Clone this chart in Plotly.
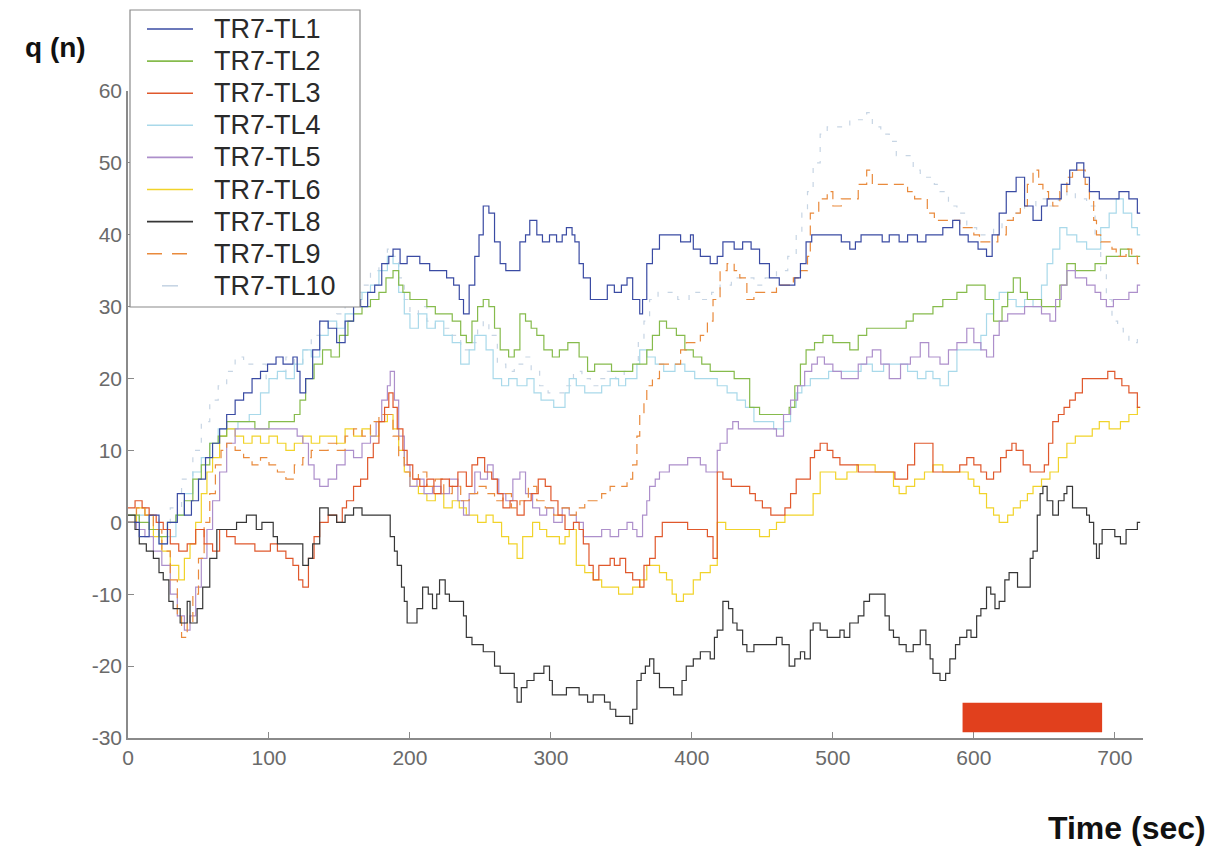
import plotly.graph_objects as go

# ---- series: (time in s, q(n)) breakpoints, drawn as step lines ----
SERIES_NAMES = ["TR7-TL1", "TR7-TL2", "TR7-TL3", "TR7-TL4", "TR7-TL5",
                "TR7-TL6", "TR7-TL8", "TR7-TL9", "TR7-TL10"]

TL1 = [(0,0),(8,-2),(15,1),(22,-3),(28,0),(35,4),(40,1),(45,3),(50,6),(55,9),(60,11),(65,13),(70,15),
       (76,17),(82,18),(88,20),(94,21),(99,22),(105,23),(110,22),(117,23),(120,21),(122,18),(126,20),
       (131,24),(136,28),(142,27),(148,25),(154,28),(160,31),(165,30),(170,32),(175,33),(180,36),
       (185,37),(188,38),(193,36),(198,37),(207,36),(214,35),(220,35),(226,34),(231,33),(235,31),
       (238,29),(242,33),(246,37),(249,40),(252,44),(256,43),(260,39),(264,36),(268,35),(273,35),
       (278,39),(282,40),(285,42),(290,40),(294,39),(299,40),(304,39),(308,40),(311,41),(315,40),
       (317,39),(320,36),(323,34),(328,31),(334,31),(340,33),(345,32),(350,33),(354,34),(358,31),
       (363,29),(365,31),(368,36),(372,38),(377,40),(385,40),(392,39),(399,40),(401,38),(406,37),
       (413,36),(418,37),(422,39),(430,38),(436,39),(442,38),(448,36),(455,34),(462,33),(469,33),
       (473,34),(477,36),(481,39),(485,40),(500,40),(506,39),(512,38),(516,39),(520,40),(528,40),
       (535,39),(540,40),(547,39),(553,40),(560,39),(566,40),(571,40),(578,41),(585,42),(590,40),
       (596,39),(603,38),(609,37),(613,40),(618,43),(623,46),(630,48),(636,44),(642,42),(648,44),
       (652,45),(656,45),(662,47),(668,49),(673,50),(678,48),(682,46),(689,45),(696,45),(703,46),
       (710,45),(716,43),(718,43)]

TL2 = [(0,1),(8,0),(15,-1),(22,-2),(28,0),(34,1),(40,3),(46,6),(52,8),(58,11),(64,12),(70,14),
       (80,14),(90,13),(100,14),(110,14),(118,15),(122,17),(126,20),(132,22),(138,24),(144,23),
       (150,26),(156,28),(160,29),(166,30),(172,31),(178,32),(183,34),(188,35),(192,33),(195,32),
       (200,31),(206,31),(212,30),(218,29),(224,29),(230,28),(236,26),(240,25),(244,28),(248,30),
       (252,31),(256,30),(260,27),(264,24),(270,23),(274,24),(278,29),(282,28),(286,27),(290,26),
       (295,24),(301,23),(306,24),(312,25),(316,25),(320,23),(326,21),(331,22),(337,22),(343,21),
       (349,21),(354,21),(358,22),(363,22),(368,24),(372,26),(377,28),(382,27),(389,26),(395,24),
       (401,23),(407,22),(413,21),(420,21),(425,21),(430,20),(436,20),(441,16),(448,15),(455,15),
       (462,15),(469,16),(473,19),(477,22),(481,24),(487,25),(493,26),(500,25),(506,25),(512,24),
       (518,26),(524,27),(530,27),(540,27),(547,27),(552,28),(557,29),(565,29),(571,30),(578,31),
       (583,31),(588,32),(595,33),(602,33),(608,31),(614,28),(620,30),(624,32),(628,34),(633,32),
       (638,31),(642,31),(648,30),(656,30),(661,33),(666,36),(672,35),(680,35),(686,36),(694,37),
       (699,37),(704,38),(710,37),(716,37),(718,37)]

TL3 = [(0,2),(5,3),(10,2),(15,1),(20,0),(25,-1),(30,-3),(36,-4),(42,-3),(48,-1),(54,-3),(60,-4),
       (65,-1),(70,-2),(76,-3),(84,-3),(90,-4),(96,-4),(101,-3),(106,-4),(112,-5),(117,-6),(121,-8),
       (124,-9),(128,-5),(132,-2),(136,0),(142,1),(148,0),(152,2),(155,3),(160,5),(165,6),(170,9),
       (174,11),(178,14),(182,16),(185,18),(188,16),(191,13),(195,10),(198,8),(202,6),(207,5),
       (212,6),(217,4),(222,6),(228,5),(234,7),(240,5),(244,8),(248,9),(253,7),(258,6),(262,4),
       (266,2),(271,3),(276,1),(281,3),(286,4),(291,6),(296,5),(300,3),(305,1),(310,-1),(316,0),
       (320,-1),(323,-3),(327,-6),(330,-8),(334,-6),(337,-6),(342,-5),(345,-6),(349,-5),(353,-7),
       (358,-8),(363,-9),(366,-6),(370,-5),(374,-2),(379,0),(385,0),(392,0),(397,-1),(401,-1),
       (406,-1),(411,-2),(415,-5),(418,7),(422,6),(428,5),(436,5),(441,4),(445,3),(450,2),(456,1),
       (462,1),(466,2),(470,4),(474,6),(480,6),(484,9),(487,10),(491,11),(496,10),(500,9),(505,8),
       (512,8),(518,7),(524,7),(530,7),(538,7),(544,6),(549,6),(553,8),(558,11),(562,11),(567,11),
       (571,7),(577,7),(585,7),(590,8),(595,9),(600,8),(605,7),(609,6),(614,7),(619,9),(623,10),
       (627,11),(630,10),(635,8),(640,7),(645,7),(650,8),(653,11),(656,14),(660,15),(664,16),
       (668,17),(672,18),(677,20),(684,20),(690,20),(695,21),(700,20),(705,19),(710,18),(716,16),
       (718,16)]

TL4 = [(0,0),(8,1),(15,-1),(22,-3),(28,-2),(34,1),(40,4),(46,7),(52,9),(58,11),(64,13),(70,13),
       (78,14),(86,15),(94,18),(100,20),(106,21),(112,20),(118,22),(124,24),(130,23),(136,26),
       (142,28),(148,27),(154,29),(160,31),(166,32),(172,33),(178,35),(184,37),(188,36),(192,32),
       (196,29),(200,27),(206,29),(212,27),(218,28),(224,26),(230,25),(236,22),(242,24),(246,26),
       (250,26),(254,24),(259,20),(265,19),(270,20),(276,19),(283,20),(288,18),(293,17),(297,17),
       (302,16),(306,16),(310,18),(313,20),(318,19),(324,18),(330,18),(336,19),(342,20),(348,19),
       (353,20),(358,20),(361,22),(363,24),(368,23),(374,22),(380,21),(388,22),(395,21),(402,20),
       (410,20),(418,19),(425,18),(432,17),(438,16),(444,14),(450,14),(458,13),(465,14),(470,16),
       (474,18),(478,19),(484,20),(490,20),(497,21),(505,21),(512,21),(520,22),(528,21),(536,22),
       (547,22),(553,21),(560,20),(566,21),(571,20),(576,19),(582,21),(588,24),(594,24),(600,24),
       (605,26),(609,29),(614,31),(618,32),(624,31),(630,30),(636,31),(642,30),(648,33),(652,36),
       (656,38),(661,41),(666,40),(673,39),(680,38),(684,38),(690,41),(696,43),(701,45),(706,43),
       (712,41),(716,40),(718,40)]

TL5 = [(0,0),(6,-1),(12,-2),(18,-4),(24,-6),(30,-10),(35,-13),(40,-15),(44,-13),(48,-9),(52,-5),
       (56,-1),(60,3),(65,7),(70,11),(76,13),(84,13),(92,13),(100,13),(108,13),(116,13),(120,12),
       (124,11),(128,8),(132,6),(136,5),(142,6),(148,8),(154,10),(160,9),(166,11),(172,12),(176,14),
       (180,17),(184,19),(186,21),(189,17),(192,12),(196,8),(200,5),(205,6),(210,4),(216,5),(222,4),
       (228,6),(234,3),(238,1),(242,4),(246,7),(250,6),(255,8),(259,6),(263,4),(268,3),(273,6),
       (278,7),(282,4),(287,2),(292,1),(297,2),(302,0),(308,2),(313,1),(318,0),(323,-2),(330,-2),
       (336,-1),(342,-2),(348,-1),(354,0),(358,-1),(361,-2),(365,1),(368,3),(370,5),(374,6),(377,7),
       (384,8),(392,8),(397,9),(401,9),(406,8),(410,7),(415,7),(418,10),(420,11),(425,13),(429,14),
       (433,13),(436,13),(445,13),(452,13),(460,12),(465,15),(470,17),(475,19),(480,21),(485,22),
       (489,23),(494,22),(500,21),(506,20),(512,20),(518,22),(524,23),(528,24),(534,22),(540,20),
       (543,20),(548,22),(555,23),(562,25),(568,23),(576,22),(582,24),(588,25),(595,27),(600,25),
       (605,24),(609,23),(614,26),(618,28),(624,29),(630,29),(636,30),(642,30),(648,29),(654,28),
       (658,31),(662,33),(666,35),(672,34),(680,33),(686,32),(690,31),(694,30),(699,31),(704,31),
       (710,32),(716,33),(718,33)]

TL6 = [(0,0),(6,2),(12,1),(18,-2),(24,-4),(30,-6),(36,-8),(40,-5),(44,-3),(48,0),(52,4),(56,7),
       (60,9),(65,12),(70,13),(76,12),(82,11),(88,12),(94,11),(100,12),(106,11),(112,10),(118,11),
       (124,12),(130,11),(136,12),(142,12),(148,11),(154,13),(160,12),(166,13),(172,12),(178,14),
       (184,15),(188,13),(192,10),(196,7),(200,5),(206,4),(212,3),(218,4),(224,2),(230,3),(235,2),
       (240,1),(248,0),(254,1),(259,0),(265,-2),(270,-3),(276,-5),(280,-2),(287,0),(292,-1),(297,-2),
       (302,-2),(306,-3),(310,-2),(313,-1),(318,-6),(324,-7),(330,-8),(336,-9),(342,-9),(348,-10),
       (354,-10),(358,-9),(363,-8),(368,-6),(372,-6),(377,-7),(382,-8),(386,-10),(389,-11),(394,-10),
       (401,-8),(406,-7),(413,-6),(418,0),(424,-1),(432,-1),(440,-1),(448,-2),(455,-1),(460,0),
       (466,1),(472,1),(478,1),(482,1),(486,4),(491,7),(496,7),(502,6),(510,7),(517,8),(524,8),
       (530,7),(538,7),(543,5),(547,4),(552,5),(558,6),(565,7),(571,8),(578,7),(585,7),(590,7),
       (596,6),(600,5),(604,4),(609,2),(614,1),(618,0),(624,1),(628,2),(633,3),(638,4),(642,5),
       (648,6),(654,7),(660,9),(666,11),(672,12),(677,12),(684,13),(689,14),(696,13),(704,14),
       (710,15),(716,16),(718,16)]

TL8 = [(0,1),(5,-1),(8,-3),(13,-4),(18,-5),(22,-7),(25,-8),(29,-11),(32,-12),(37,-14),(42,-11),
       (44,-14),(49,-12),(53,-9),(58,-5),(63,-1),(68,-1),(72,-1),(77,0),(84,1),(91,-1),(95,0),(99,0),
       (103,-2),(106,-3),(113,-3),(120,-3),(124,-6),(128,-5),(131,-3),(136,2),(142,1),(148,0),
       (154,1),(160,2),(166,1),(172,1),(178,1),(184,1),(186,-2),(189,-4),(191,-6),(194,-9),(196,-11),
       (198,-14),(202,-14),(205,-12),(209,-9),(213,-10),(216,-12),(219,-10),(221,-8),(225,-10),
       (228,-11),(233,-11),(236,-11),(238,-13),(240,-16),(244,-17),(248,-17),(252,-18),(255,-18),
       (260,-20),(264,-21),(268,-21),(271,-21),(274,-23),(276,-25),(279,-23),(283,-22),(288,-21),
       (292,-21),(295,-20),(297,-20),(299,-22),(301,-24),(306,-24),(311,-23),(316,-23),(320,-24),
       (326,-25),(330,-24),(335,-24),(338,-25),(342,-26),(346,-27),(351,-27),(354,-27),(356,-28),
       (358,-26),(361,-22),(364,-21),(367,-20),(370,-19),(373,-21),(377,-23),(382,-23),(387,-24),
       (391,-24),(393,-22),(396,-20),(401,-19),(406,-18),(410,-18),(413,-19),(416,-16),(418,-15),
       (422,-11),(426,-12),(429,-14),(432,-15),(436,-17),(439,-18),(444,-17),(448,-17),(454,-17),
       (460,-16),(464,-17),(469,-20),(473,-19),(477,-18),(480,-19),(484,-15),(486,-14),(491,-15),
       (496,-16),(500,-16),(505,-15),(508,-16),(512,-14),(518,-13),(522,-11),(526,-10),(530,-10),
       (533,-10),(537,-13),(540,-15),(543,-16),(547,-17),(552,-18),(557,-17),(562,-15),(566,-17),
       (569,-19),(571,-21),(576,-22),(580,-21),(583,-19),(587,-17),(590,-16),(595,-15),(598,-16),
       (602,-13),(605,-12),(609,-9),(612,-10),(615,-12),(618,-11),(622,-8),(625,-7),(628,-7),
       (631,-9),(635,-9),(638,-9),(640,-5),(642,-4),(645,1),(647,4),(649,5),(652,3),(656,1),(660,3),
       (664,4),(666,5),(670,2),(675,2),(680,1),(682,0),(685,-3),(687,-5),(689,-3),(691,-1),(695,-1),
       (700,-2),(704,-3),(708,-1),(712,-1),(716,0),(718,0)]

TL9 = [(0,0),(6,2),(12,1),(18,-1),(24,-4),(30,-8),(35,-13),(38,-16),(42,-14),(46,-10),(50,-5),
       (54,0),(58,4),(62,8),(66,10),(70,11),(76,10),(82,9),(88,8),(94,9),(100,8),(106,7),(112,6),
       (118,8),(124,9),(130,10),(136,10),(142,11),(148,10),(154,12),(160,13),(166,12),(172,14),
       (178,15),(184,15),(188,12),(192,9),(196,7),(200,6),(206,7),(212,5),(218,6),(224,4),(230,5),
       (236,3),(242,4),(248,5),(254,4),(260,3),(266,4),(272,2),(278,3),(284,5),(290,3),(296,2),
       (302,1),(308,2),(313,1),(318,2),(324,3),(330,3),(336,4),(342,5),(348,5),(354,6),(358,8),
       (361,12),(363,15),(366,17),(368,19),(372,20),(377,22),(382,22),(387,22),(392,24),(396,25),
       (401,25),(406,26),(411,28),(415,31),(420,35),(425,36),(430,35),(434,34),(439,31),(444,32),
       (448,32),(454,32),(460,33),(466,33),(472,34),(477,35),(482,37),(484,43),(490,45),(496,46),
       (500,44),(506,45),(512,45),(518,47),(524,49),(528,47),(534,47),(540,47),(547,47),(553,46),
       (558,45),(562,45),(567,43),(572,42),(578,42),(585,42),(590,41),(595,41),(600,40),(604,39),
       (611,39),(617,40),(623,42),(628,43),(633,44),(638,47),(642,49),(646,47),(649,46),(653,45),
       (656,44),(661,46),(666,48),(670,49),(675,49),(679,47),(682,45),(685,42),(687,40),(690,39),
       (694,39),(698,38),(701,37),(705,37),(708,38),(712,37),(716,36),(718,36)]

TL10 = [(0,0),(8,2),(15,1),(22,-1),(30,2),(38,6),(46,10),(52,14),(58,17),(64,19),(70,21),(76,23),
        (82,22),(90,22),(98,20),(106,21),(112,23),(118,22),(124,24),(130,26),(136,28),(142,27),
        (148,29),(154,31),(160,32),(166,33),(172,35),(178,36),(184,38),(188,37),(192,34),(196,31),
        (200,29),(206,30),(212,28),(218,27),(224,27),(230,26),(236,24),(242,25),(248,27),(252,28),
        (256,26),(262,22),(268,21),(274,22),(280,23),(286,21),(292,19),(298,18),(304,18),(310,19),
        (316,21),(322,20),(328,19),(334,20),(340,21),(346,20),(352,21),(358,22),(362,25),(366,28),
        (370,31),(376,32),(382,32),(390,31),(398,32),(406,31),(414,32),(420,33),(428,34),(436,34),
        (444,33),(452,34),(460,35),(468,37),(474,40),(478,43),(482,46),(486,50),(491,54),(496,55),
        (500,55),(506,55),(512,56),(518,56),(524,57),(528,55),(534,54),(540,53),(545,51),(550,51),
        (557,49),(562,48),(567,48),(572,47),(576,46),(582,44),(588,43),(595,41),(602,40),(608,40),
        (614,41),(620,42),(628,43),(636,44),(644,45),(652,44),(660,45),(666,46),(672,45),(680,44),
        (686,40),(690,35),(694,31),(698,28),(702,27),(706,26),(710,25),(716,26),(718,26)]

SERIES = [TL1, TL2, TL3, TL4, TL5, TL6, TL8, TL9, TL10]
COLORS = ["#3a4ba3", "#86bb4c", "#e0582c", "#a9d9ea", "#ad8fcb",
          "#f1d32a", "#363636", "#e98a3c", "#c7d5e4"]
DASHES = ["solid", "solid", "solid", "solid", "solid",
          "solid", "solid", "10px,6px", "5px,9px"]

# stimulus period marked below the traces
STIM_START, STIM_END = 592, 691
STIM_LOW, STIM_HIGH = -29.2, -25.1

X_TICKS = [0, 100, 200, 300, 400, 500, 600, 700]
Y_TICKS = [-30, -20, -10, 0, 10, 20, 30, 40, 50, 60]
Y_TICK_TEXT = ["-30", "-20", "-10", "0", "10", "20", "30", "40", "50", "60"]

FONT = "Liberation Sans, Arial, Helvetica, sans-serif"
AXIS_GREY = "#8a8a8a"

fig = go.Figure()

# paint faint traces first so the darker ones stay readable on top
draw_order = [8, 3, 5, 1, 4, 7, 2, 6, 0]
for i in draw_order:
    pts = SERIES[i]
    fig.add_trace(go.Scatter(
        x=[p[0] for p in pts], y=[p[1] for p in pts],
        mode="lines", name=SERIES_NAMES[i], showlegend=False,
        line=dict(color=COLORS[i], width=1.2, dash=DASHES[i], shape="hv"),
        hoverinfo="x+y+name",
    ))

fig.add_shape(type="rect", xref="x", yref="y",
              x0=STIM_START, x1=STIM_END, y0=STIM_LOW, y1=STIM_HIGH,
              fillcolor="#e1401d", line=dict(width=0), layer="above")

# ---- legend box placed in paper coordinates derived from pixel positions ----
L, R, T, B = 128, 1143, 91, 738        # plot-area edges in px
def px(xp):
    return (xp - L) / (R - L)
def py(yp):
    return (B - yp) / (B - T)

fig.add_shape(type="rect", xref="paper", yref="paper",
              x0=px(130), x1=px(360), y0=py(307), y1=py(10),
              fillcolor="white", line=dict(color=AXIS_GREY, width=1.2), layer="above")

row0, row_step = 29, 32.1
for k, name in enumerate(SERIES_NAMES):
    yc = row0 + row_step * k
    fig.add_shape(type="line", xref="paper", yref="paper",
                  x0=px(147), x1=px(193), y0=py(yc), y1=py(yc),
                  line=dict(color=COLORS[k], width=1.6,
                            dash="15px,10px" if k == 7 else "solid"),
                  layer="above")
    fig.add_annotation(xref="paper", yref="paper", x=px(212), y=py(yc),
                       text=name, showarrow=False, xanchor="left", yanchor="middle",
                       font=dict(family=FONT, size=27, color="#2a2a2a"))

# TL10 legend sample is a single short dash
fig.layout.shapes[-1].update(x0=px(162), x1=px(178))

fig.add_annotation(xref="paper", yref="paper", x=px(55), y=py(48),
                   text="<b>q (n)</b>", showarrow=False, xanchor="center", yanchor="middle",
                   font=dict(family=FONT, size=28, color="#111111"))
fig.add_annotation(xref="paper", yref="paper", x=px(1127), y=py(828),
                   text="<b>Time (sec)</b>", showarrow=False, xanchor="center", yanchor="middle",
                   font=dict(family=FONT, size=32, color="#111111"))

axis_common = dict(showline=True, linecolor=AXIS_GREY, linewidth=1.5,
                   ticks="inside", ticklen=6, tickwidth=1.2, tickcolor=AXIS_GREY,
                   showgrid=False, zeroline=False,
                   tickfont=dict(family=FONT, size=21, color="#6a6a6a"))

fig.update_xaxes(range=[0, 720], tickvals=X_TICKS, ticktext=[str(v) for v in X_TICKS],
                 **axis_common)
fig.update_yaxes(range=[-30, 60], tickvals=Y_TICKS, ticktext=Y_TICK_TEXT, **axis_common)

fig.update_layout(
    width=1213, height=846, autosize=False,
    margin=dict(l=L, r=1213 - R, t=T, b=846 - B),
    paper_bgcolor="white", plot_bgcolor="white",
    showlegend=False,
    font=dict(family=FONT),
)

fig.write_html("out.html")
